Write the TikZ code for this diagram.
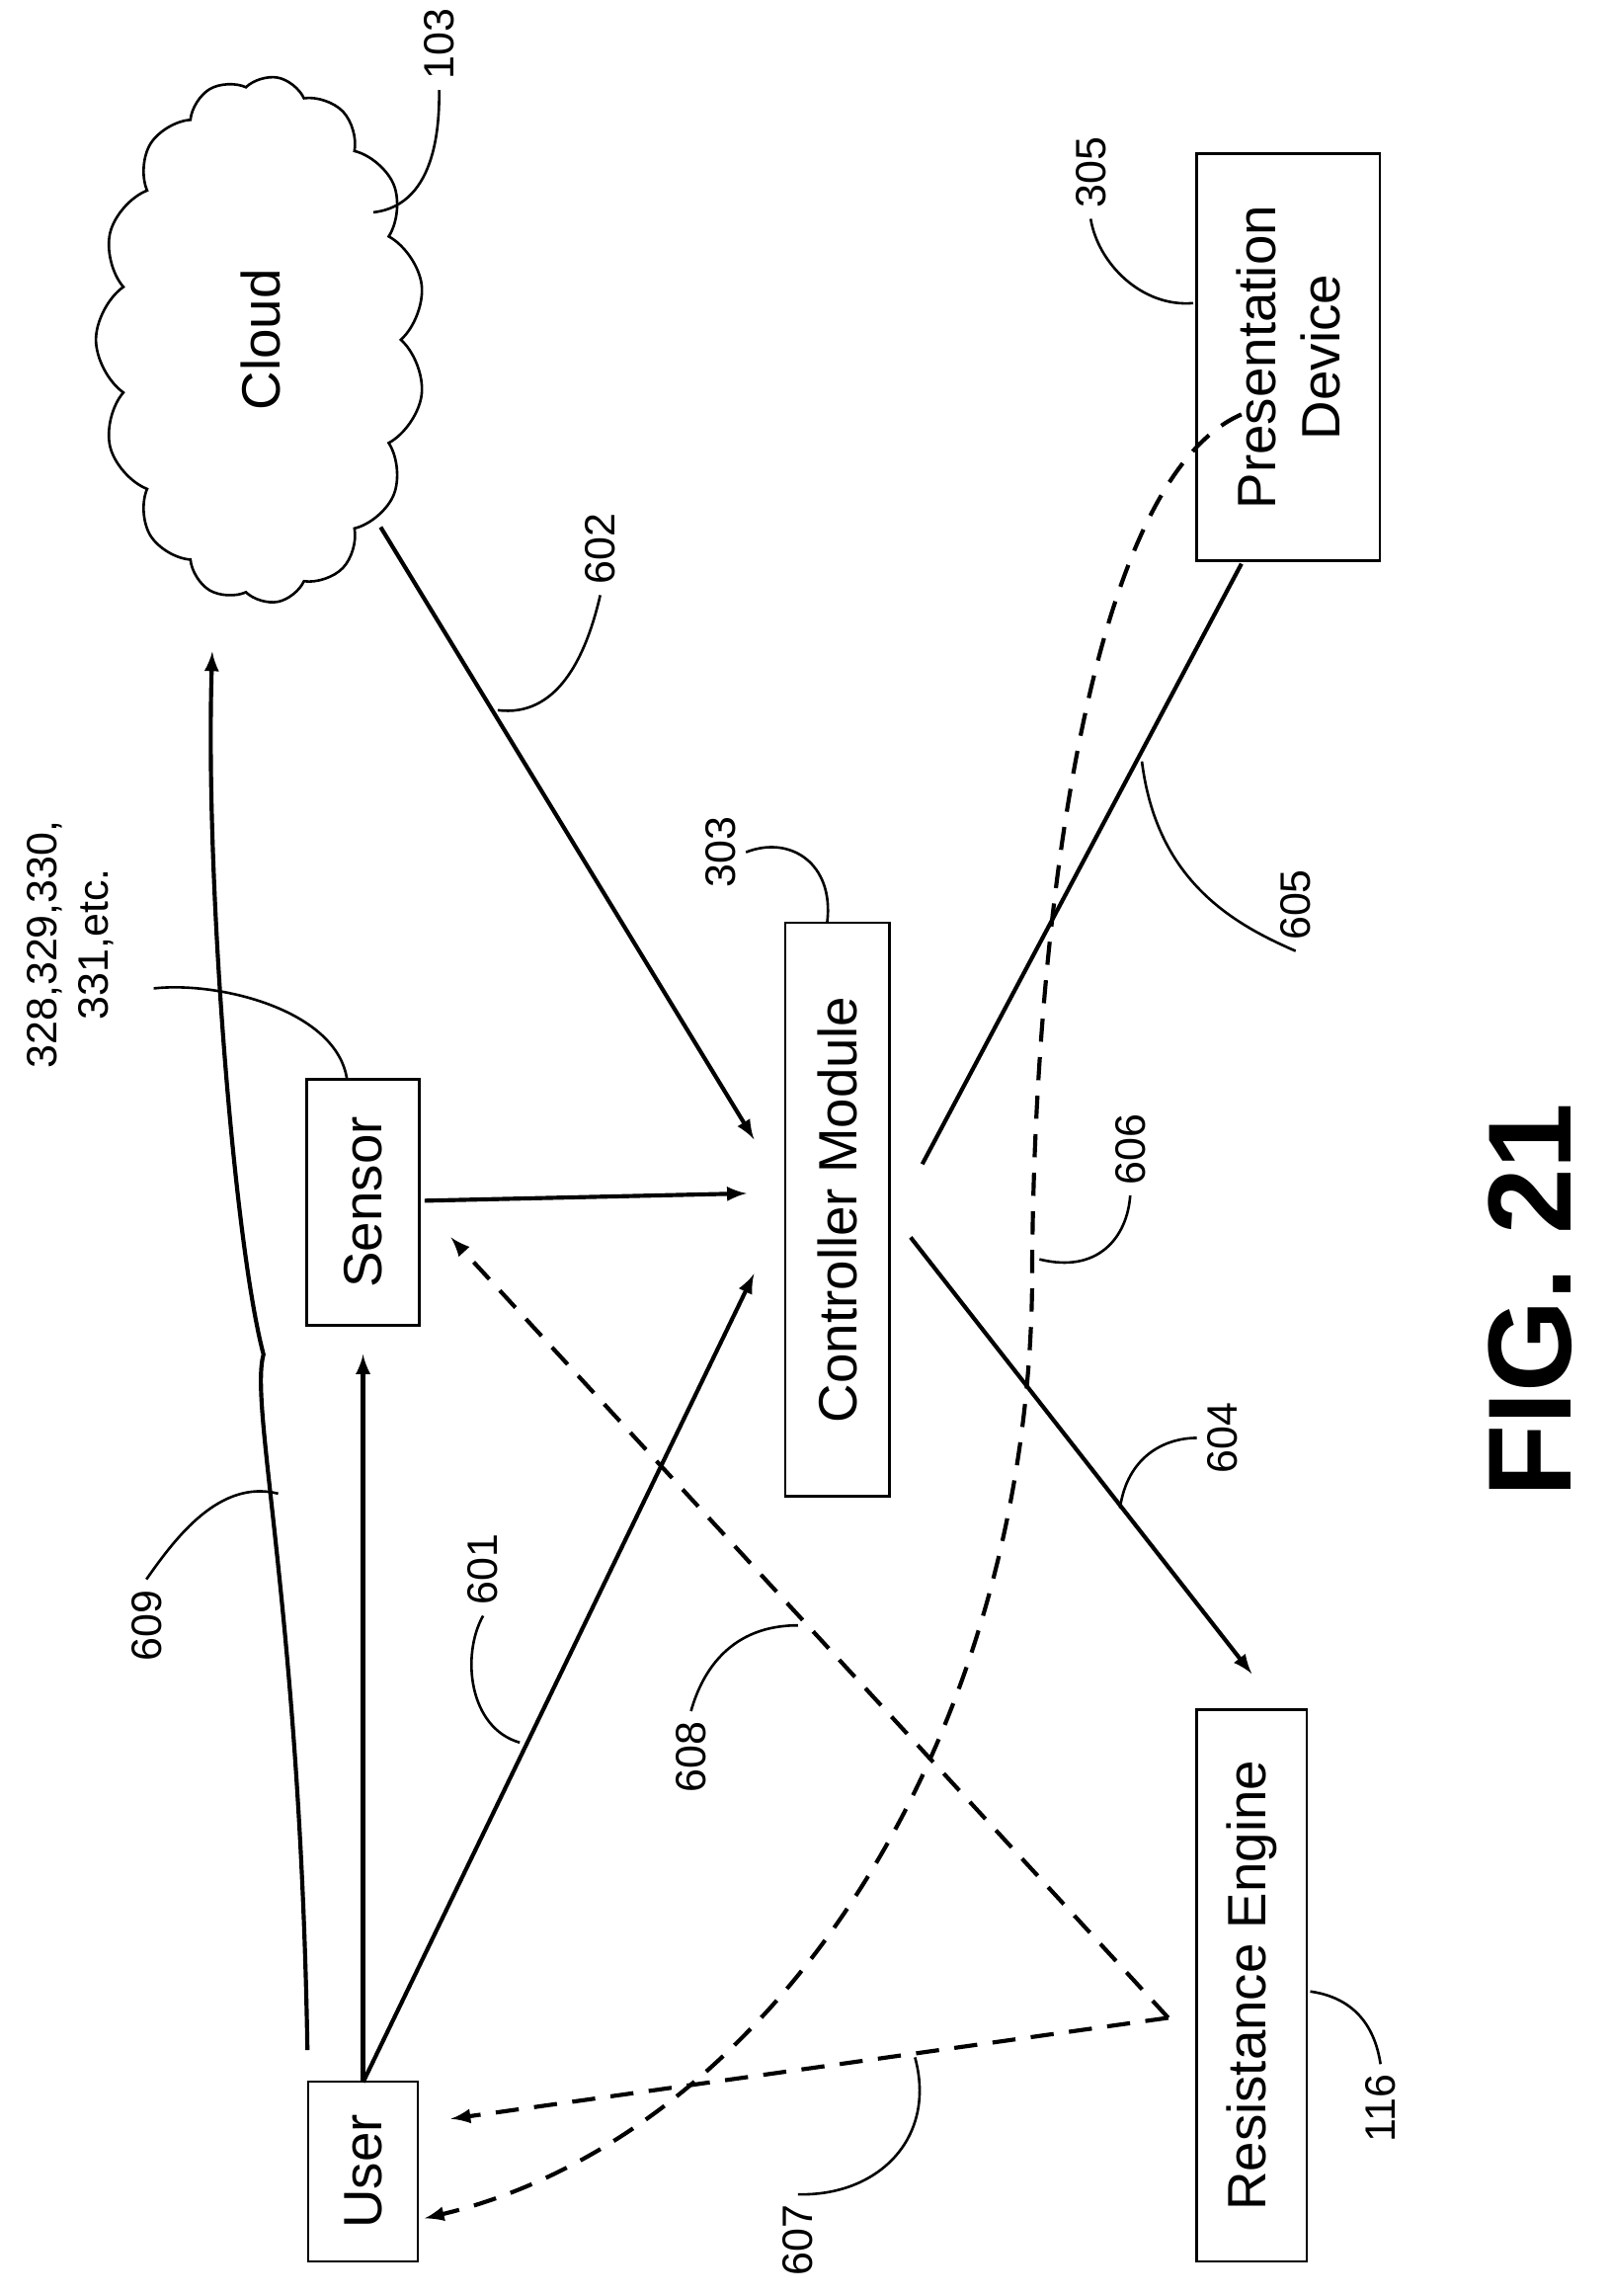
\documentclass[tikz,border=0pt]{standalone}
\usepackage{fontspec}
\setmainfont{Liberation Sans}
\usetikzlibrary{shapes.symbols}
\begin{document}
\begin{tikzpicture}[x=0.02cm, y=-0.02cm, > = latex, line width=1.6pt,
    box/.style = {draw, line width=1pt, rotate=90, font=\fontsize{21}{25}\selectfont, align=center, inner sep=0pt},
    lbl/.style = {rotate=90, font=\fontsize{16.5}{20}\selectfont, align=center},
    lead/.style = {line width=1pt},
    dashline/.style = {dash pattern=on 9pt off 6pt}]

    \useasboundingbox (0,0) rectangle (1100,1568);

    % Blocks
    \node [box, shape=cloud, cloud puffs=15, cloud puff arc=110, minimum width=7.2cm, minimum height=4.5cm] (cloud) at (178,232) {Cloud};
    \node [box, minimum width=5.56cm, minimum height=2.5cm] (pres) at (880,244) {Presentation\\Device};
    \node [box, minimum width=7.84cm, minimum height=1.42cm] (ctrl) at (572,826) {Controller Module};
    \node [box, minimum width=3.36cm, minimum height=1.54cm] (sensor) at (248,821) {Sensor};
    \node [box, minimum width=2.46cm, minimum height=1.5cm] (user) at (248,1483) {User};
    \node [box, minimum width=7.54cm, minimum height=1.5cm] (res) at (855,1356) {Resistance Engine};

    % Connector ends
    \coordinate (c609a) at (210,1400);
    \coordinate (c609b) at (145,445);
    \coordinate (cSens) at (248,925);
    \coordinate (cUser) at (248,1422);
    \coordinate (cCtrlL) at (515,870);
    \coordinate (cCloud) at (260,360);
    \coordinate (cCtrlT) at (515,778);
    \coordinate (cSensR) at (290,820);
    \coordinate (cCtrlS) at (510,815);
    \coordinate (cCtrlB) at (622,845);
    \coordinate (cRes) at (855,1143);
    \coordinate (cCtrlR) at (630,795);
    \coordinate (cPres) at (848,385);
    \coordinate (cPresL) at (848,283);
    \coordinate (cUserB) at (290,1515);
    \coordinate (cUserR) at (308,1447);
    \coordinate (cSensB) at (308,845);
    \coordinate (cTip) at (798,1378);

    % Connectors
    \draw [->] (c609a) .. controls (205,1100) and (170,960) .. (180,925)
        .. controls (160,850) and (140,600) .. (c609b);
    \draw [->] (cUser) -- (cSens);
    \draw [->] (cUser) -- (cCtrlL);
    \draw [->] (cCloud) -- (cCtrlT);
    \draw [->] (cSensR) -- (cCtrlS);
    \draw [->] (cCtrlB) -- (cRes);
    \draw (cCtrlR) -- (cPres);
    \draw [->, dashline] (cPresL) .. controls (740,330) and (705,650) .. (705,880)
        .. controls (700,1200) and (520,1460) .. (cUserB);
    \draw [->, dashline] (cTip) -- (cUserR);
    \draw [->, dashline] (cTip) -- (cSensB);

    % Reference numerals
    \node [lbl] (n103) at (300,30) {103};
    \draw [lead] (255,145) .. controls (300,140) and (300,80) .. (n103.west);
    \node [lbl] (n305) at (745,118) {305};
    \draw [lead] (815,207) .. controls (780,210) and (750,180) .. (n305.west);
    \node [lbl] (n303) at (492,582) {303};
    \draw [lead] (565,630) .. controls (570,590) and (540,570) .. (n303.south);
    \node [lbl] (nsens) at (48,645) {328,329,330,\\331,etc.};
    \draw [lead] (237,737) .. controls (230,690) and (150,670) .. (105,675);
    \node [lbl] (n116) at (943,1440) {116};
    \draw [lead] (895,1360) .. controls (930,1365) and (940,1390) .. (n116.east);
    \node [lbl] (n609) at (100,1110) {609};
    \draw [lead] (190,1020) .. controls (150,1010) and (120,1050) .. (n609.east);
    \node [lbl] (n601) at (330,1072) {601};
    \draw [lead] (355,1190) .. controls (320,1180) and (315,1130) .. (n601.west);
    \node [lbl] (n602) at (410,375) {602};
    \draw [lead] (340,485) .. controls (380,490) and (400,450) .. (n602.west);
    \node [lbl] (n604) at (835,982) {604};
    \draw [lead] (765,1030) .. controls (770,995) and (795,982) .. (n604.north);
    \node [lbl] (n605) at (885,618) {605};
    \draw [lead] (780,520) .. controls (790,600) and (840,630) .. (n605.west);
    \node [lbl] (n606) at (772,785) {606};
    \draw [lead] (710,860) .. controls (750,870) and (770,845) .. (n606.west);
    \node [lbl] (n607) at (545,1530) {607};
    \draw [lead] (625,1405) .. controls (640,1460) and (600,1500) .. (n607.east);
    \node [lbl] (n608) at (472,1200) {608};
    \draw [lead] (545,1110) .. controls (500,1110) and (480,1140) .. (n608.east);

    \node [rotate=90, font=\fontsize{46}{50}\selectfont\bfseries] (fig) at (1045,888) {FIG. 21};
\end{tikzpicture}
\end{document}
